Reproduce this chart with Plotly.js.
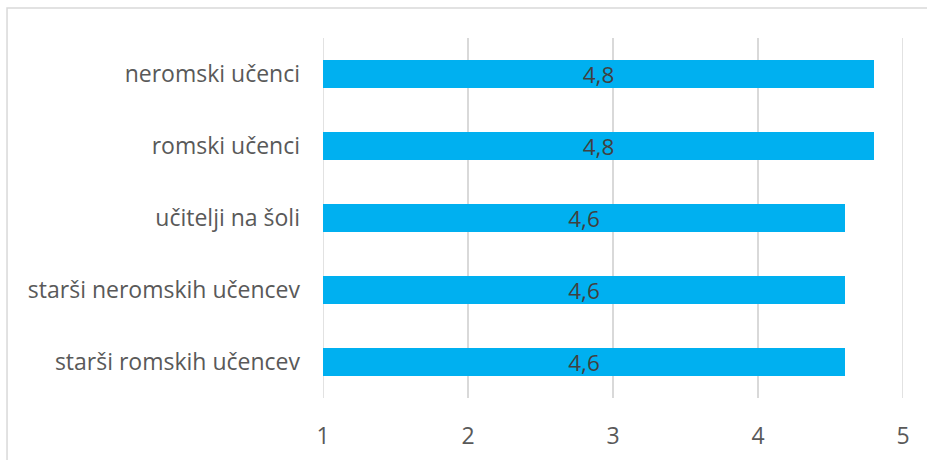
<!DOCTYPE html>
<html>
<head>
<meta charset="utf-8">
<script src="https://cdn.plot.ly/plotly-3.0.1.min.js"></script>
<style>
html,body{margin:0;padding:0;background:#fff;}
#chart{width:927px;height:460px;}
</style>
</head>
<body>
<div id="chart"></div>
<script>
const categories = ["neromski učenci", "romski učenci", "učitelji na šoli", "starši neromskih učencev", "starši romskih učencev"];
const values = [4.8, 4.8, 4.6, 4.6, 4.6];
const valueLabels = ["4,8", "4,8", "4,6", "4,6", "4,6"];
const tickVals = [1, 2, 3, 4, 5];
const tickText = ["1", "2", "3", "4", "5"];
const axisStart = 1;

const FONT = "'Open Sans', 'Noto Sans', sans-serif";

const trace = {
  type: "bar",
  orientation: "h",
  y: categories,
  x: values.map(v => v - axisStart),
  base: axisStart,
  text: valueLabels,
  textposition: "inside",
  insidetextanchor: "middle",
  constraintext: "none",
  textangle: 0,
  textfont: {family: FONT, size: 22.5, color: "#404040"},
  marker: {color: "#00B0F0"},
  hoverinfo: "y+text",
  cliponaxis: false
};

const layout = {
  width: 927, height: 460,
  margin: {l: 323, r: 24, t: 38, b: 62},
  paper_bgcolor: "#ffffff",
  plot_bgcolor: "#ffffff",
  showlegend: false,
  bargap: 0.61,
  font: {family: FONT, size: 23, color: "#595959"},
  xaxis: {
    range: [1, 5],
    tickvals: tickVals,
    ticktext: tickText,
    showgrid: true,
    gridcolor: "#d9d9d9",
    gridwidth: 1.5,
    zeroline: false,
    showline: false,
    ticks: "",
    ticklabelstandoff: 22,
    tickfont: {family: FONT, size: 23, color: "#595959"},
    fixedrange: true
  },
  yaxis: {
    autorange: "reversed",
    type: "category",
    showgrid: false,
    zeroline: false,
    showline: false,
    ticks: "",
    ticklabelstandoff: 22,
    tickfont: {family: FONT, size: 23, color: "#595959"},
    fixedrange: true
  },
  shapes: [
    {
      type: "line", xref: "x", yref: "paper",
      x0: tickVals[0], x1: tickVals[0], y0: 0, y1: 1,
      line: {color: "#d9d9d9", width: 1.5}, layer: "below"
    },
    {
      type: "line", xref: "x", yref: "paper",
      x0: tickVals[tickVals.length - 1], x1: tickVals[tickVals.length - 1], y0: 0, y1: 1,
      line: {color: "#d9d9d9", width: 1.5}, layer: "below"
    },
    {
      type: "rect",
      xref: "paper", yref: "paper",
      x0: -0.5448, x1: 1.3,
      y0: -0.3, y1: 1.0833,
      line: {color: "#d9d9d9", width: 1.5},
      fillcolor: "rgba(0,0,0,0)",
      layer: "below"
    }
  ]
};

Plotly.newPlot("chart", [trace], layout, {displayModeBar: false, staticPlot: true});
</script>
</body>
</html>
